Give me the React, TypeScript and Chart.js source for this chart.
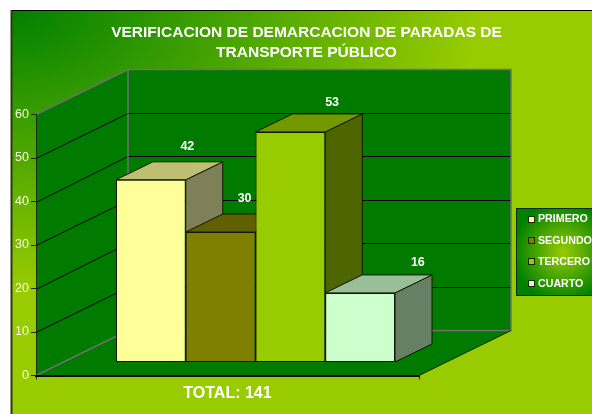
import React, { useEffect, useRef } from "react";
import { Chart, registerables } from "chart.js";

Chart.register(...registerables);

const titleLines = ["VERIFICACION DE DEMARCACION DE PARADAS DE", "TRANSPORTE PÚBLICO"];
const categories = ["TOTAL: 141"];
const seriesNames = ["PRIMERO", "SEGUNDO", "TERCERO", "CUARTO"];
const primero = [42];
const segundo = [30];
const tercero = [53];
const cuarto = [16];
const seriesValues = [primero, segundo, tercero, cuarto];
const frontColors = ["#FFFF99", "#808000", "#99CC00", "#CCFFCC"];
const topColors = ["#BFBF73", "#606000", "#739900", "#99BF99"];
const sideColors = ["#808058", "#404000", "#4D6600", "#668066"];
const labelOffsets = [[36.5, -33.5], [24, -33.5], [41.7, -29], [57.7, -30.5]];

const WALL = "#007B00";
const EDGE = "#707070";
const BACK = { x: 92, y: -45 };
const SHIFT = { x: 28, y: -13 };
const DEPTH = { x: 37, y: -18 };

function poly(ctx: CanvasRenderingContext2D, pts: number[][], fill?: string, stroke?: string, lw = 1) {
  ctx.beginPath();
  pts.forEach((p, i) => (i ? ctx.lineTo(p[0], p[1]) : ctx.moveTo(p[0], p[1])));
  ctx.closePath();
  if (fill) { ctx.fillStyle = fill; ctx.fill(); }
  if (stroke) { ctx.strokeStyle = stroke; ctx.lineWidth = lw; ctx.stroke(); }
}

function line(ctx: CanvasRenderingContext2D, pts: number[][], stroke: string, lw = 1) {
  ctx.beginPath();
  pts.forEach((p, i) => (i ? ctx.lineTo(p[0], p[1]) : ctx.moveTo(p[0], p[1])));
  ctx.strokeStyle = stroke;
  ctx.lineWidth = lw;
  ctx.stroke();
}

const scene3d = {
  id: "scene3d",
  afterLayout(chart: any) {
    chart.titleBlock.left = 110;
    chart.titleBlock.right = 503;
  },
  beforeDraw(chart: any) {
    const ctx: CanvasRenderingContext2D = chart.ctx;
    const { left: l, right: r, top: t, bottom: b } = chart.chartArea;
    ctx.save();
    ctx.fillStyle = "#FFFFFF";
    ctx.fillRect(0, 0, chart.width, chart.height);

    ctx.save();
    ctx.beginPath();
    ctx.rect(11, 10, chart.width - 11, chart.height - 10);
    ctx.clip();
    ctx.translate(12, 11);
    ctx.scale(1, 280 / 470);
    const bg = ctx.createRadialGradient(0, 0, 0, 0, 0, 470);
    bg.addColorStop(0, "#008000");
    bg.addColorStop(1, "#99CC00");
    ctx.fillStyle = bg;
    ctx.fillRect(-12, -20, chart.width + 12, 800);
    ctx.restore();
    line(ctx, [[11, 10.5], [chart.width, 10.5]], "#000000", 1);
    line(ctx, [[11.5, 10], [11.5, chart.height]], "#2A3A10", 2);

    const bx = BACK.x, by = BACK.y;
    poly(ctx, [[l + bx, t + by], [r + bx, t + by], [r + bx, b + by], [l + bx, b + by]], WALL);
    poly(ctx, [[l, t], [l + bx, t + by], [l + bx, b + by], [l, b]], WALL);
    poly(ctx, [[l, b], [l + bx, b + by], [r + bx, b + by], [r, b]], WALL);

    const y = chart.scales.y;
    y.ticks.forEach((tick: any) => {
      if (tick.value === 0 || tick.value === y.max) return;
      const py = y.getPixelForValue(tick.value);
      const backY = Math.floor(py + by) + 0.5;
      line(ctx, [[l, Math.round(py) + 0.5], [l + bx, backY], [r + bx, backY]], "#000000", 1);
    });

    line(ctx, [[l, t], [l + bx, t + by], [r + bx, t + by], [r + bx, b + by], [l + bx, b + by]], EDGE, 1.5);
    line(ctx, [[l + bx, t + by], [l + bx, b + by], [l, b]], EDGE, 1.5);
    line(ctx, [[r, b], [r + bx, b + by]], "#0A2A0A", 1);
    ctx.restore();
  },
  beforeDatasetsDraw(chart: any) {
    const ctx: CanvasRenderingContext2D = chart.ctx;
    chart.data.datasets.forEach((_: any, i: number) => {
      const meta = chart.getDatasetMeta(i);
      ctx.save();
      ctx.translate(SHIFT.x, SHIFT.y);
      meta.data.forEach((bar: any) => {
        const x0 = bar.x - bar.width / 2;
        const x1 = bar.x + bar.width / 2;
        const d = DEPTH;
        ctx.lineJoin = "round";
        poly(ctx, [[x1, bar.y], [x1 + d.x, bar.y + d.y], [x1 + d.x, bar.base + d.y], [x1, bar.base]], sideColors[i], "#101800", 1);
        poly(ctx, [[x0, bar.y], [x0 + d.x, bar.y + d.y], [x1 + d.x, bar.y + d.y], [x1, bar.y]], topColors[i], "#101800", 1);
      });
      meta.controller.draw();
      ctx.restore();
    });
    return false;
  },
  afterDraw(chart: any) {
    const ctx: CanvasRenderingContext2D = chart.ctx;
    ctx.save();
    ctx.font = "bold 12.5px 'Liberation Sans'";
    ctx.fillStyle = "#FFFFFF";
    ctx.textAlign = "center";
    ctx.textBaseline = "middle";
    chart.data.datasets.forEach((ds: any, i: number) => {
      const bar = chart.getDatasetMeta(i).data[0];
      ctx.fillText(String(ds.data[0]), bar.x + SHIFT.x + labelOffsets[i][0], bar.y + SHIFT.y + labelOffsets[i][1]);
    });

    const lx = 516.5, ly = 208.5, lw = 90, lh = 87;
    ctx.save();
    ctx.beginPath();
    ctx.rect(lx, ly, lw, lh);
    ctx.clip();
    ctx.translate(563, 252);
    const g = ctx.createRadialGradient(0, 0, 0, 0, 0, 50);
    g.addColorStop(0, "#99CC00");
    g.addColorStop(1, "#008000");
    ctx.fillStyle = g;
    ctx.fillRect(-60, -60, 120, 120);
    ctx.restore();
    ctx.strokeStyle = "#0A2A0A";
    ctx.lineWidth = 1;
    ctx.strokeRect(lx, ly, lw, lh);

    ctx.textAlign = "left";
    ctx.font = "bold 10.67px 'Liberation Sans'";
    chart.data.datasets.forEach((ds: any, i: number) => {
      const cy = 219.5 + i * 21.4;
      ctx.fillStyle = ds.backgroundColor;
      ctx.fillRect(528.5, Math.round(cy) - 3.5, 6, 6);
      ctx.strokeStyle = "#1A2A00";
      ctx.strokeRect(528.5, Math.round(cy) - 3.5, 6, 6);
      ctx.fillStyle = "#FFFFFF";
      ctx.fillText(ds.label, 538, cy);
    });
    ctx.restore();
  },
};

export default function App() {
  const ref = useRef<HTMLCanvasElement>(null);
  useEffect(() => {
    document.body.style.margin = "0";
    document.body.style.overflow = "hidden";
    const chart = new Chart(ref.current as HTMLCanvasElement, {
      type: "bar",
      data: {
        labels: categories,
        datasets: seriesNames.map((name, i) => ({
          label: name,
          data: seriesValues[i],
          backgroundColor: frontColors[i],
          borderColor: "#101800",
          borderWidth: 1,
          borderSkipped: false,
          categoryPercentage: 0.7285,
          barPercentage: 1,
        })),
      },
      options: {
        responsive: false,
        animation: false,
        events: [],
        layout: { padding: { top: 0, right: 173, bottom: 0, left: 0 } },
        plugins: {
          legend: { display: false },
          tooltip: { enabled: false },
          title: {
            display: true,
            text: titleLines,
            color: "#FFFFFF",
            font: { family: "'Liberation Sans'", size: 15.5, weight: "bold", lineHeight: 20 / 15.5 },
            padding: { top: 23, bottom: 51.5 },
          },
        },
        scales: {
          x: {
            afterFit(scale: any) { scale.height = 38.5; },
            grid: { drawOnChartArea: false, drawTicks: true, tickLength: 4, color: "#223300" },
            border: { color: "#000000", width: 2 },
            ticks: { color: "#FFFFFF", padding: 4, font: { family: "'Liberation Sans'", size: 16, weight: "bold" } },
          },
          y: {
            min: 0,
            max: 60,
            afterFit(scale: any) { scale.width = 36; },
            grid: { drawOnChartArea: false, drawTicks: true, tickLength: 5, color: "#1A2A00" },
            border: { color: "#1A2A00", width: 1 },
            ticks: { stepSize: 10, color: "#F5FBDD", padding: 2, font: { family: "'Liberation Sans'", size: 12.5 } },
          },
        },
      },
      plugins: [scene3d],
    } as any);
    return () => chart.destroy();
  }, []);
  return <canvas ref={ref} width={592} height={414} style={{ display: "block", width: 592, height: 414 }} />;
}
